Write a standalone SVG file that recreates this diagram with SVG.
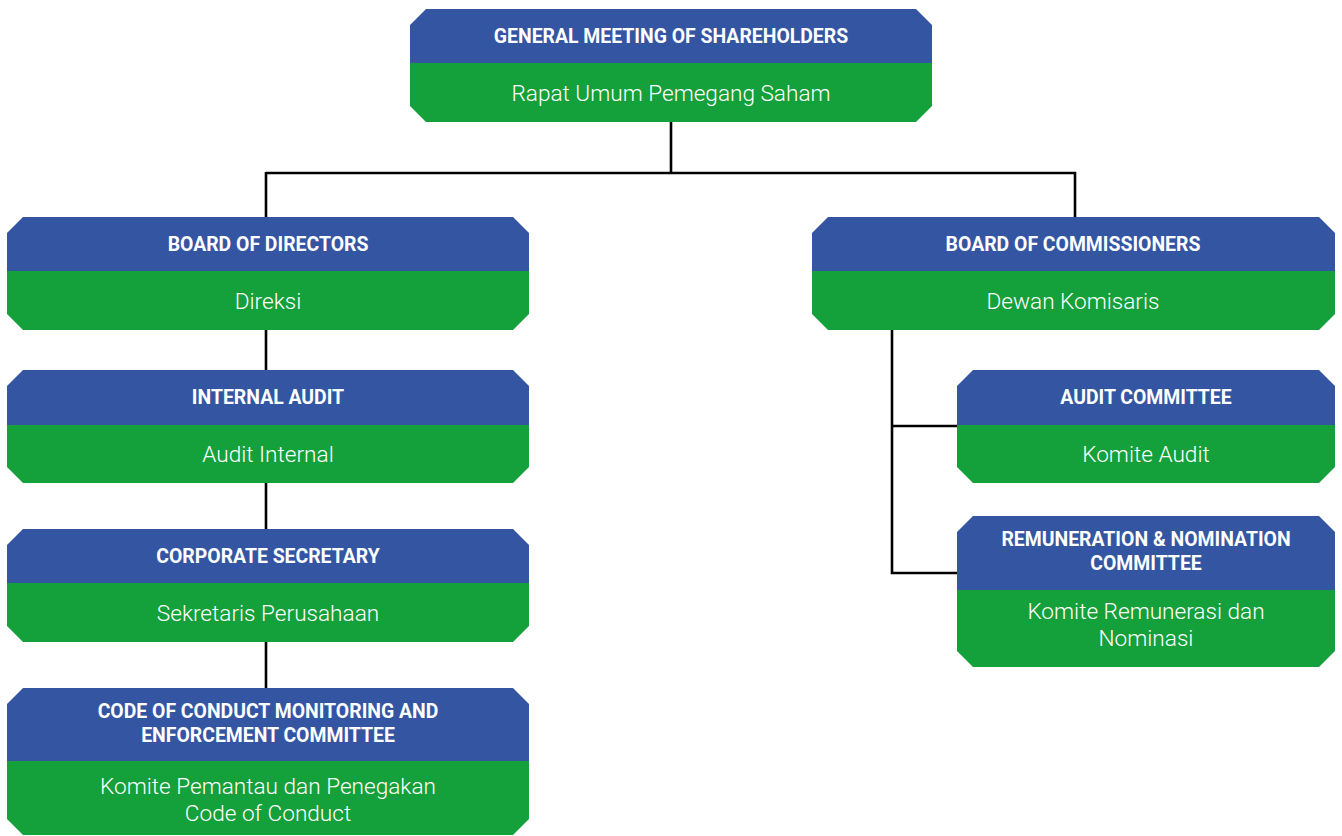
<svg xmlns="http://www.w3.org/2000/svg" width="1342" height="836" viewBox="0 0 1342 836">
  <style>
    .hd { fill: #3456A2; }
    .bd { fill: #14A03B; }
    .t1 { font-family: Roboto, "Liberation Sans", sans-serif; font-weight: 700; font-size: 19.4px; fill: #ffffff; text-anchor: middle; }
    .t2 { font-family: Roboto, "Liberation Sans", sans-serif; font-weight: 300; font-size: 22.6px; fill: #ffffff; text-anchor: middle; }
    .ln { stroke: #000000; stroke-width: 2.6; fill: none; }
  </style>
  <rect width="1342" height="836" fill="#ffffff"/>

  <!-- connectors -->
  <g id="connectors">
    <path class="ln" d="M671 122 V173 M266 173 H1076 M266 172 V217 M1075 172 V217"/>
    <path class="ln" d="M266 330 V370 M266 483 V529 M266 642 V688"/>
    <path class="ln" d="M892 330 V573 H957 M892 426 H957"/>
  </g>

  <!-- General Meeting of Shareholders -->
  <g id="gms">
    <path class="hd" d="M426 9 H916 L932 25 V63 H410 V25 Z"/>
    <path class="bd" d="M410 63 H932 V106 L916 122 H426 L410 106 Z"/>
    <text class="t1" x="671" y="43">GENERAL MEETING OF SHAREHOLDERS</text>
    <text class="t2" x="671" y="101">Rapat Umum Pemegang Saham</text>
  </g>

  <!-- Board of Directors -->
  <g id="bod">
    <path class="hd" d="M23 217 H513 L529 233 V271 H7 V233 Z"/>
    <path class="bd" d="M7 271 H529 V314 L513 330 H23 L7 314 Z"/>
    <text class="t1" x="268" y="251">BOARD OF DIRECTORS</text>
    <text class="t2" x="268" y="309">Direksi</text>
  </g>

  <!-- Board of Commissioners -->
  <g id="boc">
    <path class="hd" d="M828 217 H1319 L1335 233 V271 H812 V233 Z"/>
    <path class="bd" d="M812 271 H1335 V314 L1319 330 H828 L812 314 Z"/>
    <text class="t1" x="1073" y="251">BOARD OF COMMISSIONERS</text>
    <text class="t2" x="1073" y="309">Dewan Komisaris</text>
  </g>

  <!-- Internal Audit -->
  <g id="internal-audit">
    <path class="hd" d="M23 370 H513 L529 386 V425 H7 V386 Z"/>
    <path class="bd" d="M7 425 H529 V467 L513 483 H23 L7 467 Z"/>
    <text class="t1" x="268" y="404">INTERNAL AUDIT</text>
    <text class="t2" x="268" y="462">Audit Internal</text>
  </g>

  <!-- Corporate Secretary -->
  <g id="corp-sec">
    <path class="hd" d="M23 529 H513 L529 545 V583 H7 V545 Z"/>
    <path class="bd" d="M7 583 H529 V626 L513 642 H23 L7 626 Z"/>
    <text class="t1" x="268" y="563">CORPORATE SECRETARY</text>
    <text class="t2" x="268" y="621">Sekretaris Perusahaan</text>
  </g>

  <!-- Code of Conduct Committee -->
  <g id="coc">
    <path class="hd" d="M23 688 H513 L529 704 V761 H7 V704 Z"/>
    <path class="bd" d="M7 761 H529 V819 L513 835 H23 L7 819 Z"/>
    <text class="t1" x="268" y="718">CODE OF CONDUCT MONITORING AND</text>
    <text class="t1" x="268" y="742">ENFORCEMENT COMMITTEE</text>
    <text class="t2" x="268" y="794">Komite Pemantau dan Penegakan</text>
    <text class="t2" x="268" y="821">Code of Conduct</text>
  </g>

  <!-- Audit Committee -->
  <g id="audit-committee">
    <path class="hd" d="M973 370 H1319 L1335 386 V425 H957 V386 Z"/>
    <path class="bd" d="M957 425 H1335 V467 L1319 483 H973 L957 467 Z"/>
    <text class="t1" x="1146" y="404">AUDIT COMMITTEE</text>
    <text class="t2" x="1146" y="462">Komite Audit</text>
  </g>

  <!-- Remuneration & Nomination Committee -->
  <g id="remuneration">
    <path class="hd" d="M973 516 H1319 L1335 532 V590 H957 V532 Z"/>
    <path class="bd" d="M957 590 H1335 V651 L1319 667 H973 L957 651 Z"/>
    <text class="t1" x="1146" y="546">REMUNERATION &amp; NOMINATION</text>
    <text class="t1" x="1146" y="570">COMMITTEE</text>
    <text class="t2" x="1146" y="619">Komite Remunerasi dan</text>
    <text class="t2" x="1146" y="646">Nominasi</text>
  </g>
</svg>
